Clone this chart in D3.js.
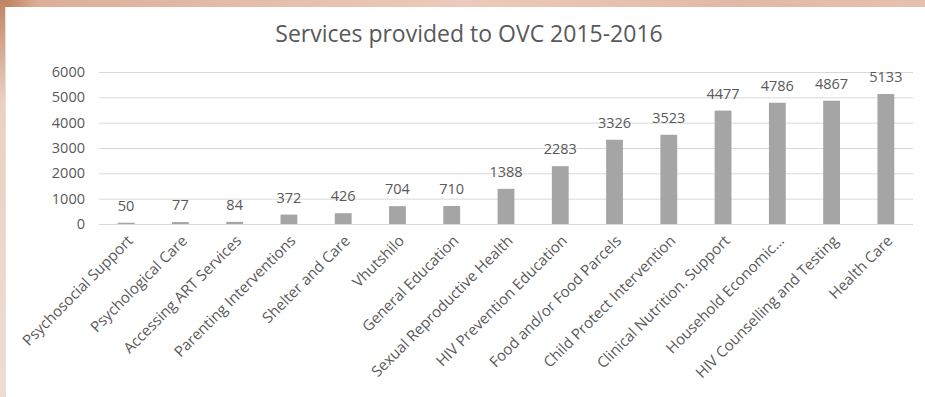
<!DOCTYPE html>
<html>
<head>
<meta charset="utf-8">
<script src="https://cdn.jsdelivr.net/npm/d3@7"></script>
<style>
  html, body { margin: 0; padding: 0; }
  body { width: 925px; height: 397px; overflow: hidden; background: #e9c6b6; }
  svg { display: block; }
  text { font-family: "Open Sans", "Lato", sans-serif; fill: #595959; }
</style>
</head>
<body>
<svg id="chart" width="925" height="397"></svg>
<script>
// Services provided to OVC, 2015-2016
const title = "Services provided to OVC 2015-2016";
const categories = [
  "Psychosocial Support", "Psychological Care", "Accessing ART Services",
  "Parenting Interventions", "Shelter and Care", "Vhutshilo",
  "General Education", "Sexual Reproductive Health", "HIV Prevention Education",
  "Food and/or Food Parcels", "Child Protect Intervention",
  "Clinical Nutrition. Support", "Household Economic...",
  "HIV Counselling and Testing", "Health Care"
];
const values = [50, 77, 84, 372, 426, 704, 710, 1388, 2283, 3326, 3523, 4477, 4786, 4867, 5133];
const yTicks = [0, 1000, 2000, 3000, 4000, 5000, 6000];

const svg = d3.select("#chart");
const W = 925, H = 397;

// backdrop around the chart panel
const defs = svg.append("defs");
const bg = defs.append("linearGradient").attr("id", "bg").attr("x1", 0).attr("y1", 0).attr("x2", 1).attr("y2", 0);
bg.append("stop").attr("offset", "0").attr("stop-color", "#b97a58");
bg.append("stop").attr("offset", "0.04").attr("stop-color", "#dcae98");
bg.append("stop").attr("offset", "0.5").attr("stop-color", "#ebcbbd");
bg.append("stop").attr("offset", "0.8").attr("stop-color", "#e2b8a5");
bg.append("stop").attr("offset", "1").attr("stop-color", "#e6c0ae");
const side = defs.append("linearGradient").attr("id", "side").attr("x1", 0).attr("y1", 0).attr("x2", 0).attr("y2", 1);
side.append("stop").attr("offset", "0").attr("stop-color", "#c08463");
side.append("stop").attr("offset", "0.25").attr("stop-color", "#eccfc2");
side.append("stop").attr("offset", "1").attr("stop-color", "#f1dcd2");

svg.append("rect").attr("width", W).attr("height", H).attr("fill", "url(#bg)");
svg.append("rect").attr("x", 0).attr("y", 0).attr("width", 6).attr("height", H).attr("fill", "url(#side)");

// white chart panel
svg.append("rect").attr("x", 5).attr("y", 7).attr("width", W - 5).attr("height", H - 7)
  .attr("fill", "#ffffff");
svg.append("line").attr("x1", 5.5).attr("x2", 5.5).attr("y1", 7).attr("y2", H)
  .attr("stroke", "#e2e2e2").attr("stroke-width", 1);

const plot = { left: 99, right: 913, top: 72, bottom: 224 };

const x = d3.scaleBand().domain(categories).range([plot.left, plot.right]).paddingInner(0.69).paddingOuter(0.345);
const y = d3.scaleLinear().domain([0, 6000]).range([plot.bottom, plot.top]);

// title
svg.append("text").attr("x", 469).attr("y", 42).attr("text-anchor", "middle")
  .style("font-size", "23px").style("fill", "#595959").text(title);

// gridlines + y labels
const yAxis = d3.axisLeft(y).tickValues(yTicks).tickSize(-(plot.right - plot.left)).tickPadding(14).tickFormat(d3.format("d"));
const gy = svg.append("g").attr("transform", `translate(${plot.left},0)`).call(yAxis);
gy.select(".domain").remove();
gy.selectAll(".tick line").attr("stroke", "#d9d9d9").attr("stroke-width", 1);
gy.selectAll(".tick text").style("font-size", "14.5px").style("fill", "#595959").attr("font-family", null);

// bars
svg.append("g").selectAll("rect").data(values).join("rect")
  .attr("x", (d, i) => x(categories[i]))
  .attr("y", d => y(d))
  .attr("width", x.bandwidth())
  .attr("height", d => y(0) - y(d))
  .attr("fill", "#a5a5a5");

// value labels
svg.append("g").selectAll("text").data(values).join("text")
  .attr("x", (d, i) => x(categories[i]) + x.bandwidth() / 2)
  .attr("y", d => y(d) - 12)
  .attr("text-anchor", "middle")
  .style("font-size", "14.5px")
  .text(d => d);

// category axis
const xAxis = d3.axisBottom(x).tickSize(0).tickPadding(0);
const gx = svg.append("g").attr("transform", `translate(0,${plot.bottom})`).call(xAxis);
gx.select(".domain").remove();
gx.selectAll(".tick text")
  .attr("font-family", null)
  .style("font-size", "15px")
  .style("fill", "#595959")
  .attr("text-anchor", "end")
  .attr("y", 0).attr("dy", "0.35em")
  .attr("transform", "translate(4,14) rotate(-45)");
</script>
</body>
</html>
